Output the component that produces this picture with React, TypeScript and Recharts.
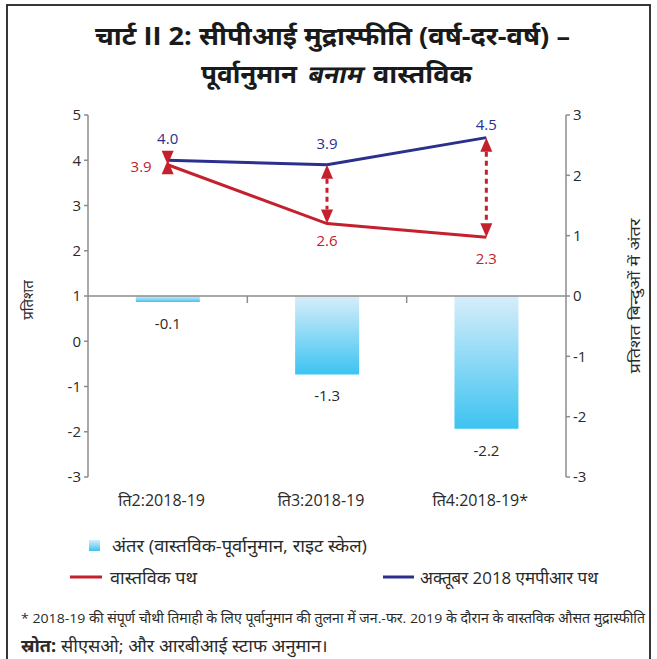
import React from 'react';
import {
  ComposedChart, Bar, Line, XAxis, YAxis, ReferenceLine, LabelList
} from 'recharts';

const quarters = ['ति2:2018-19', 'ति3:2018-19', 'ति4:2018-19*'];
const actualPath = [3.9, 2.6, 2.3];
const mprPath = [4.0, 3.9, 4.5];
const gapValues = [-0.1, -1.3, -2.2];
const leftTicks = [-3, -2, -1, 0, 1, 2, 3, 4, 5];
const rightTicks = [-3, -2, -1, 0, 1, 2, 3];

const data = quarters.map((q, i) => ({
  q,
  actual: actualPath[i],
  mpr: mprPath[i],
  gap: gapValues[i],
}));

const RED = '#c5202e';
const BLUE = '#2b2f8e';
const AXIS = '#8d8d8d';
const TXT = '#2a2a2a';
const FONT = "'Open Sans', 'Noto Sans', sans-serif";

const ArrowShape = (p: any) => {
  const { x1, y1, y2 } = p;
  const top = Math.min(y1, y2);
  const bot = Math.max(y1, y2);
  const L = 14;
  const W = 6;
  return (
    <g>
      {bot - top > 2 * L && (
        <line x1={x1} x2={x1} y1={top + L} y2={bot - L} stroke={RED} strokeWidth={3} strokeDasharray="5 4" />
      )}
      <polygon points={`${x1},${top} ${x1 - W},${top + L} ${x1 + W},${top + L}`} fill={RED} />
      <polygon points={`${x1},${bot} ${x1 - W},${bot - L} ${x1 + W},${bot - L}`} fill={RED} />
    </g>
  );
};

// small category separator ticks hanging under the zero line
const TickShape = (p: any) => {
  const y = Math.min(p.y1, p.y2);
  return <line x1={p.x1} x2={p.x1} y1={y} y2={y + 7} stroke={AXIS} strokeWidth={1.5} />;
};

const XTick = ({ x, y, payload }: any) => (
  <text x={x - 6} y={y + 21} textAnchor="middle" fontSize={16} fill={TXT} fontFamily={FONT}>
    {payload.value}
  </text>
);

const gapLabel = (props: any) => {
  const { x, y, width, height, value } = props;
  const bottom = Math.max(y, y + height);
  return (
    <text x={x + width / 2} y={bottom + 21} textAnchor="middle" dominantBaseline="central"
      fontSize={15} fill={TXT} fontFamily={FONT}>
      {Number(value).toFixed(1)}
    </text>
  );
};

const mprLabel = (props: any) => {
  const { x, y, value, index } = props;
  return (
    <text x={x} y={y - (index === 2 ? 14 : 22)} textAnchor="middle" dominantBaseline="central"
      fontSize={15} fill={BLUE} fontFamily={FONT}>
      {Number(value).toFixed(1)}
    </text>
  );
};

const actualLabel = (props: any) => {
  const { x, y, value, index } = props;
  if (index === 0) {
    return (
      <text x={x - 16} y={y + 1} textAnchor="end" dominantBaseline="central"
        fontSize={15} fill={RED} fontFamily={FONT}>
        {Number(value).toFixed(1)}
      </text>
    );
  }
  return (
    <text x={x} y={y + (index === 1 ? 16 : 21)} textAnchor="middle" dominantBaseline="central"
      fontSize={15} fill={RED} fontFamily={FONT}>
      {Number(value).toFixed(1)}
    </text>
  );
};

export default function App() {
  return (
    <div style={{ position: 'absolute', left: 0, top: 0, width: 657, height: 659, background: '#fff', overflow: 'hidden' }}>
      <ComposedChart width={657} height={530} data={data} barCategoryGap="30%"
        margin={{ top: 115, right: 31, bottom: 23, left: 28 }}>
        <defs>
          <linearGradient id="gapGrad" x1="0" y1="0" x2="0" y2="1">
            <stop offset="0%" stopColor="#d7eefa" />
            <stop offset="100%" stopColor="#3dc3f1" />
          </linearGradient>
        </defs>
        <XAxis dataKey="q" axisLine={false} tickLine={false} height={30} interval={0} tick={<XTick />} />
        <YAxis yAxisId="left" domain={[-3, 5]} ticks={leftTicks} width={60} tickSize={4} tickMargin={3}
          axisLine={{ stroke: AXIS, strokeWidth: 1.5 }} tickLine={{ stroke: AXIS, strokeWidth: 1.5 }}
          tick={{ fill: TXT, fontSize: 15, fontFamily: FONT }} />
        <YAxis yAxisId="right" orientation="right" domain={[-3, 3]} ticks={rightTicks} width={60} tickSize={4} tickMargin={3}
          axisLine={{ stroke: AXIS, strokeWidth: 1.5 }} tickLine={{ stroke: AXIS, strokeWidth: 1.5 }}
          tick={{ fill: TXT, fontSize: 15, fontFamily: FONT }} />
        <Bar dataKey="gap" yAxisId="right" fill="url(#gapGrad)" isAnimationActive={false}>
          <LabelList dataKey="gap" content={gapLabel} />
        </Bar>
        <ReferenceLine yAxisId="left" y={1} stroke={AXIS} strokeWidth={1.5} />
        {quarters.slice(1).map((q) => (
          <ReferenceLine key={'t' + q} yAxisId="left" position="start"
            segment={[{ x: q, y: 1 }, { x: q, y: 0.9 }]} shape={TickShape} />
        ))}
        <Line dataKey="actual" yAxisId="left" stroke={RED} strokeWidth={3} dot={false} isAnimationActive={false}>
          <LabelList dataKey="actual" content={actualLabel} />
        </Line>
        <Line dataKey="mpr" yAxisId="left" stroke={BLUE} strokeWidth={3} dot={false} isAnimationActive={false}>
          <LabelList dataKey="mpr" content={mprLabel} />
        </Line>
        {quarters.map((q, i) => (
          <ReferenceLine key={'a' + q} yAxisId="left"
            segment={[{ x: q, y: actualPath[i] }, { x: q, y: mprPath[i] }]} shape={ArrowShape} />
        ))}
      </ComposedChart>
      <svg width={657} height={659} style={{ position: 'absolute', left: 0, top: 0, pointerEvents: 'none' }}
        fontFamily={FONT}>
        <defs>
          <linearGradient id="legGrad" x1="0" y1="0" x2="0" y2="1">
            <stop offset="0%" stopColor="#d7eefa" />
            <stop offset="100%" stopColor="#3dc3f1" />
          </linearGradient>
        </defs>
        <rect x={7} y={5} width={643} height={700} fill="none" stroke="#222" strokeWidth={1.8} />
        <text x={95} y={45} fontSize={25} fontWeight="bold" fill="#1a1a1a"
          textLength={475} lengthAdjust="spacingAndGlyphs">
          चार्ट II 2: सीपीआई मुद्रास्फीति (वर्ष-दर-वर्ष) –
        </text>
        <text x={201} y={83} fontSize={25} fontWeight="bold" fill="#1a1a1a"
          textLength={96} lengthAdjust="spacingAndGlyphs">पूर्वानुमान</text>
        <text x={307} y={83} fontSize={25} fontWeight="bold" fill="#1a1a1a"
          textLength={55} lengthAdjust="spacingAndGlyphs"
          transform="translate(307,83) skewX(-12) translate(-307,-83)">बनाम</text>
        <text x={373} y={83} fontSize={25} fontWeight="bold" fill="#1a1a1a"
          textLength={99} lengthAdjust="spacingAndGlyphs">वास्तविक</text>
        <text transform="translate(27,300) rotate(-90)" textAnchor="middle" dominantBaseline="central"
          fontSize={15} fill={TXT}>प्रतिशत</text>
        <text transform="translate(634,296) rotate(-90)" textAnchor="middle" dominantBaseline="central"
          fontSize={15} fill={TXT} textLength={155} lengthAdjust="spacingAndGlyphs">प्रतिशत बिन्दुओं में अंतर</text>
        <rect x={89} y={540} width={11} height={11} fill="url(#legGrad)" />
        <text x={112} y={545} dominantBaseline="central" fontSize={17} fill={TXT}
          textLength={255} lengthAdjust="spacingAndGlyphs">
          अंतर (वास्तविक-पूर्वानुमान, राइट स्केल)
        </text>
        <line x1={70} x2={102} y1={577} y2={577} stroke={RED} strokeWidth={3} />
        <text x={110} y={577} dominantBaseline="central" fontSize={17} fill={TXT}
          textLength={87} lengthAdjust="spacingAndGlyphs">वास्तविक पथ</text>
        <line x1={383} x2={414} y1={577} y2={577} stroke={BLUE} strokeWidth={3} />
        <text x={420} y={577} dominantBaseline="central" fontSize={17} fill={TXT}
          textLength={178} lengthAdjust="spacingAndGlyphs">अक्तूबर 2018 एमपीआर पथ</text>
        <text x={21} y={618} dominantBaseline="central" fontSize={13.5} fill={TXT}
          textLength={624} lengthAdjust="spacingAndGlyphs">
          * 2018-19 की संपूर्ण चौथी  तिमाही के लिए पूर्वानुमान की तुलना में जन.-फर. 2019 के दौरान के वास्तविक औसत मुद्रास्फीति
        </text>
        <text x={21} y={645} dominantBaseline="central" fontSize={17} fill={TXT}
          textLength={307} lengthAdjust="spacingAndGlyphs">
          <tspan fontWeight="bold">स्रोत:</tspan> सीएसओ; और आरबीआई स्टाफ अनुमान।
        </text>
      </svg>
    </div>
  );
}
